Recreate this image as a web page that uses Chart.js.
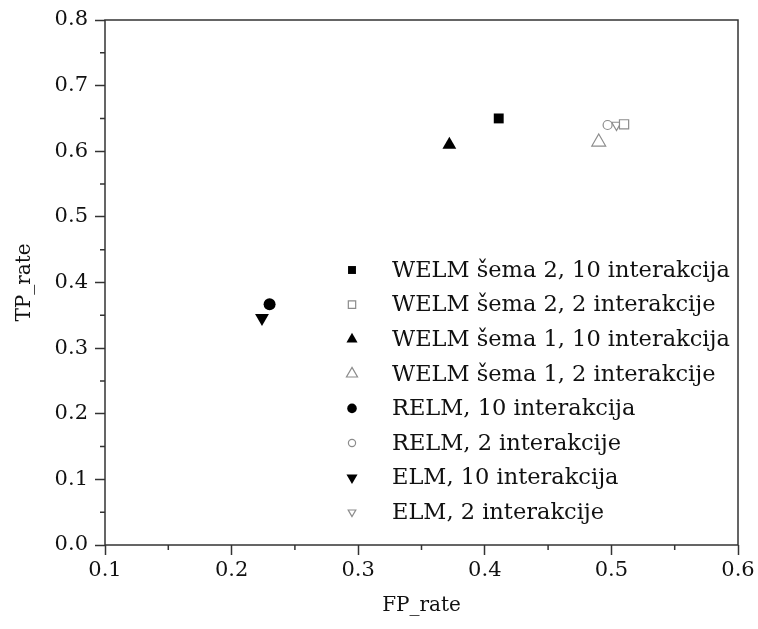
<!DOCTYPE html>
<html>
<head>
<meta charset="utf-8">
<script src="https://cdn.jsdelivr.net/npm/chart.js@4/dist/chart.umd.min.js"></script>
<style>
    html, body { margin: 0; padding: 0; background: #fff; }
</style>
</head>
<body>
<canvas id="roc_tacke" width="758" height="629"></canvas>
<script>
(function(){
    var nazivi = ['WELM šema 2, 10 interakcija', 'WELM šema 2, 2 interakcije',
                  'WELM šema 1, 10 interakcija', 'WELM šema 1, 2 interakcije',
                  'RELM, 10 interakcija', 'RELM, 2 interakcije',
                  'ELM, 10 interakcija', 'ELM, 2 interakcije'];
    var fp_rate = [0.411, 0.510, 0.372, 0.490, 0.230, 0.497, 0.224, 0.504];
    var tp_rate = [0.650, 0.641, 0.610, 0.614, 0.367, 0.640, 0.346, 0.640];
    var x_podeoci = [0.1, 0.2, 0.3, 0.4, 0.5, 0.6];
    var y_podeoci = [0.0, 0.1, 0.2, 0.3, 0.4, 0.5, 0.6, 0.7, 0.8];

    // izgled markera
    var oblik = ['rect', 'rect', 'triangle', 'triangle', 'circle', 'circle', 'triangle', 'triangle'];
    var rotacija = [0, 0, 0, 0, 0, 0, 180, 180];
    var pun = [true, false, true, false, true, false, true, false];
    var velicina = [7, 6.5, 8, 8, 6, 4.5, 8, 5.5];

    var crna = '#000';
    var siva = '#8c8c8c';
    var linija = '#333';
    var font = 'DejaVu Serif';

    const datasets = nazivi.map(function(naziv, i){
        return {
            label: naziv,
            data: [{x: fp_rate[i], y: tp_rate[i]}],
            pointStyle: oblik[i],
            pointRotation: rotacija[i],
            pointRadius: velicina[i],
            backgroundColor: pun[i] ? crna : '#fff',
            borderColor: pun[i] ? crna : siva,
            borderWidth: pun[i] ? 0 : 1.2
        };
    });

    // okvir, sporedni podeoci i legenda unutar grafika
    const okvir = {
        id: 'okvir',
        afterDraw(chart) {
            const {ctx, chartArea: a, scales: {x, y}} = chart;
            ctx.save();
            ctx.strokeStyle = linija;
            ctx.lineWidth = 1.5;
            ctx.strokeRect(a.left, a.top, a.right - a.left, a.bottom - a.top);

            ctx.beginPath();
            for (let i = 0; i < x.ticks.length - 1; i++) {
                const px = x.getPixelForValue((x.ticks[i].value + x.ticks[i + 1].value) / 2);
                ctx.moveTo(px, a.bottom);
                ctx.lineTo(px, a.bottom + 5);
            }
            for (let i = 0; i < y.ticks.length - 1; i++) {
                const py = y.getPixelForValue((y.ticks[i].value + y.ticks[i + 1].value) / 2);
                ctx.moveTo(a.left, py);
                ctx.lineTo(a.left - 5, py);
            }
            ctx.stroke();

            // legenda
            const lx = 352, tx = 392, ly = 270, korak = 34.6;
            ctx.font = '22.5px "' + font + '"';
            ctx.textBaseline = 'middle';
            ctx.textAlign = 'left';
            chart.data.datasets.forEach(function(ds, i){
                const yy = ly + i * korak;
                ctx.fillStyle = ds.backgroundColor;
                ctx.strokeStyle = ds.borderColor;
                ctx.lineWidth = ds.borderWidth;
                Chart.helpers.drawPoint(ctx, {
                    pointStyle: ds.pointStyle,
                    rotation: ds.pointRotation,
                    radius: ds.pointRadius * 0.8,
                    borderWidth: ds.borderWidth
                }, lx, yy);
                ctx.fillStyle = '#111';
                ctx.fillText(ds.label, tx, yy + 1);
            });
            ctx.restore();
        }
    };

    const config = {
        type: 'scatter',
        data: { datasets },
        options: {
            responsive: false,
            animation: false,
            events: [],
            layout: { padding: { top: 20, right: 20, left: 0, bottom: 0 } },
            scales: {
                x: {
                    type: 'linear',
                    min: x_podeoci[0],
                    max: x_podeoci[x_podeoci.length - 1],
                    afterBuildTicks: function(s){ s.ticks = x_podeoci.map(v => ({value: v})); },
                    afterFit: function(s){ s.height = 84; },
                    border: { display: false },
                    grid: { drawOnChartArea: false, drawTicks: true, tickLength: 10, tickColor: linija, tickWidth: 1.5 },
                    ticks: {
                        padding: 3,
                        color: '#111',
                        font: { family: font, size: 21 },
                        callback: function(value){ return value.toFixed(1); }
                    },
                    title: {
                        display: true,
                        text: 'FP_rate',
                        color: '#111',
                        font: { family: font, size: 20 },
                        padding: { top: 0, bottom: 11 }
                    }
                },
                y: {
                    type: 'linear',
                    min: y_podeoci[0],
                    max: y_podeoci[y_podeoci.length - 1],
                    afterBuildTicks: function(s){ s.ticks = y_podeoci.map(v => ({value: v})); },
                    afterFit: function(s){ s.width = 105; },
                    border: { display: false },
                    grid: { drawOnChartArea: false, drawTicks: true, tickLength: 10, tickColor: linija, tickWidth: 1.5 },
                    ticks: {
                        padding: 7,
                        color: '#111',
                        font: { family: font, size: 21 },
                        callback: function(value){ return value.toFixed(1); }
                    },
                    title: {
                        display: true,
                        text: 'TP_rate',
                        color: '#111',
                        font: { family: font, size: 20 },
                        padding: { top: 13, bottom: 0 }
                    }
                }
            },
            plugins: {
                legend: { display: false },
                tooltip: { enabled: false }
            }
        },
        plugins: [okvir]
    };

    const grafik = new Chart(document.getElementById('roc_tacke'), config);
})();
</script>
</body>
</html>
